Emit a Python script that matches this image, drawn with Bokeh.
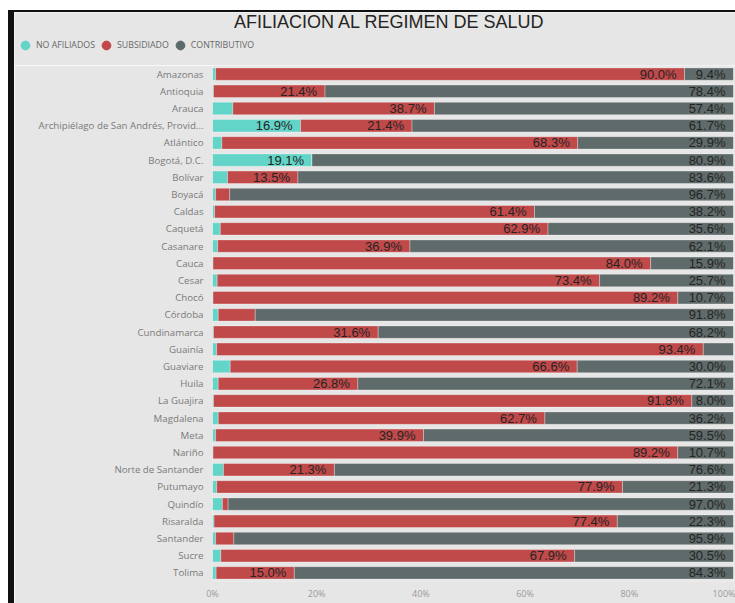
from bokeh.plotting import figure
from bokeh.layouts import column
from bokeh.models import (ColumnDataSource, FactorRange, Range1d, FixedTicker,
                          PrintfTickFormatter, Legend, LegendItem)
from bokeh.core.properties import value
from bokeh.embed import file_html
from bokeh.resources import INLINE

title_text = "AFILIACION AL REGIMEN DE SALUD"
series_names = ["NO AFILIADOS", "SUBSIDIADO", "CONTRIBUTIVO"]

departamentos = [
    "Amazonas", "Antioquia", "Arauca", "Archipiélago de San Andrés, Provid...",
    "Atlántico", "Bogotá, D.C.", "Bolívar", "Boyacá", "Caldas", "Caquetá",
    "Casanare", "Cauca", "Cesar", "Chocó", "Córdoba", "Cundinamarca",
    "Guainía", "Guaviare", "Huila", "La Guajira", "Magdalena", "Meta",
    "Nariño", "Norte de Santander", "Putumayo", "Quindío", "Risaralda",
    "Santander", "Sucre", "Tolima",
]
no_afiliados = [0.6, 0.2, 3.9, 16.9, 1.8, 19.1, 2.9, 0.6, 0.4, 1.5,
                1.0, 0.1, 0.9, 0.1, 1.1, 0.2, 0.8, 3.4, 1.1, 0.2,
                1.1, 0.6, 0.1, 2.1, 0.8, 1.9, 0.3, 0.6, 1.6, 0.7]
subsidiado = [90.0, 21.4, 38.7, 21.4, 68.3, 0.0, 13.5, 2.7, 61.4, 62.9,
              36.9, 84.0, 73.4, 89.2, 7.1, 31.6, 93.4, 66.6, 26.8, 91.8,
              62.7, 39.9, 89.2, 21.3, 77.9, 1.1, 77.4, 3.5, 67.9, 15.0]
contributivo = [9.4, 78.4, 57.4, 61.7, 29.9, 80.9, 83.6, 96.7, 38.2, 35.6,
                62.1, 15.9, 25.7, 10.7, 91.8, 68.2, 5.8, 30.0, 72.1, 8.0,
                36.2, 59.5, 10.7, 76.6, 21.3, 97.0, 22.3, 95.9, 30.5, 84.3]
x_ticks = [0, 20, 40, 60, 80, 100]

colors = ["#62d4c8", "#c0494a", "#5f6a6a"]
BG = "#e6e6e6"
BORDER = "#111111"

# ---------------- header: title + legend ----------------
HW, HH = 721, 53
header = figure(width=727, height=55, x_range=Range1d(0, HW), y_range=Range1d(0, HH),
                output_backend="svg", toolbar_location=None, title_location=None,
                x_axis_type=None, y_axis_type=None,
                min_border=0, min_border_top=0, min_border_bottom=0,
                min_border_left=0, min_border_right=0,
                background_fill_color=BG, border_fill_color=BG)
header.frame_align = False
header.styles = {"border-left": f"6px solid {BORDER}", "border-top": f"2px solid {BORDER}"}
header.outline_line_color = None
header.grid.visible = False

header.text(x=[372], y=[43.5], text=[title_text], text_align="center",
            text_baseline="alphabetic", text_font=value("Liberation Sans"),
            text_font_size="18px", text_color="#252423")

items = []
for name, col in zip(series_names, colors):
    # one point far outside the visible range: only its legend swatch shows
    r = header.scatter(x=[-1000], y=[-1000], marker="circle", size=8,
                       fill_color=col, line_color=col)
    items.append(LegendItem(label=name, renderers=[r]))
legend = Legend(items=items, orientation="horizontal", location=(0, 11),
                glyph_width=22, glyph_height=22, label_standoff=-4, spacing=0,
                padding=0, margin=0, border_line_color=None,
                background_fill_alpha=0, label_text_font="Open Sans",
                label_text_font_size="8.8px", label_text_color="#666666")
header.add_layout(legend)

# ---------------- main chart ----------------
p = figure(width=727, height=538,
           y_range=FactorRange(factors=departamentos[::-1]),
           x_range=Range1d(0, 100),
           output_backend="svg", toolbar_location=None, title_location=None,
           min_border_left=198, min_border_right=8,
           min_border_top=0, min_border_bottom=22,
           background_fill_color=BG, border_fill_color=BG)
p.frame_align = False
p.styles = {"border-left": f"6px solid {BORDER}"}
p.outline_line_color = None
p.xgrid.grid_line_color = None
p.ygrid.grid_line_color = None

src = ColumnDataSource(dict(dep=departamentos, no=no_afiliados,
                            sub=subsidiado, con=contributivo))
p.hbar_stack(["no", "sub", "con"], y="dep", height=0.72, source=src,
             fill_color=colors, line_color="#ffffff", line_alpha=0.3,
             line_width=1)

# data labels at the end of each segment wide enough to hold them
lx, ly, lt = [], [], []
for d, a, b, c in zip(departamentos, no_afiliados, subsidiado, contributivo):
    cum = 0.0
    for v in (a, b, c):
        cum += v
        if v >= 7.5:
            lx.append(cum)
            ly.append(d)
            lt.append(f"{v:.1f}%")
p.text(x="x", y="y", text="t",
       source=ColumnDataSource(dict(x=lx, y=ly, t=lt)),
       text_align="right", text_baseline="middle", x_offset=-8,
       text_font=value("Liberation Sans"), text_font_size="13px",
       text_color="#252423")

p.yaxis.axis_line_color = None
p.yaxis.major_tick_line_color = None
p.yaxis.minor_tick_line_color = None
p.yaxis.major_tick_out = 0
p.yaxis.major_label_standoff = 9
p.yaxis.major_label_text_font = "Open Sans"
p.yaxis.major_label_text_font_size = "9.7px"
p.yaxis.major_label_text_color = "#7a7a7a"

p.xaxis.ticker = FixedTicker(ticks=x_ticks)
p.xaxis.formatter = PrintfTickFormatter(format="%d%%")
p.xaxis.axis_line_color = None
p.xaxis.major_tick_line_color = None
p.xaxis.minor_tick_line_color = None
p.xaxis.major_tick_out = 0
p.xaxis.major_label_standoff = 5
p.xaxis.major_label_text_font = "Open Sans"
p.xaxis.major_label_text_font_size = "9px"
p.xaxis.major_label_text_color = "#9a9a9a"

layout = column(header, p, spacing=0)
layout.styles = {"margin-left": "8px", "margin-top": "10px"}

open("out.html", "w").write(file_html(layout, INLINE))
